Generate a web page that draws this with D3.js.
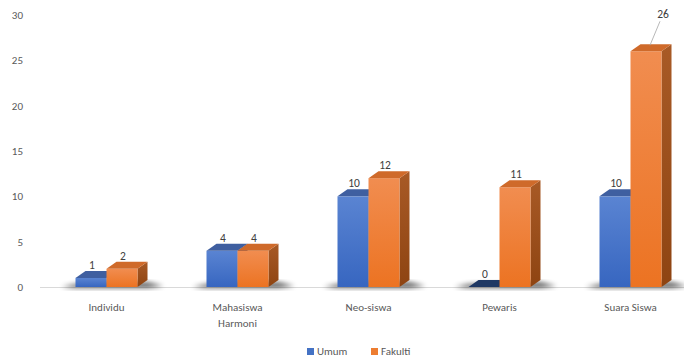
<!DOCTYPE html>
<html><head><meta charset="utf-8">
<script src="https://cdn.jsdelivr.net/npm/d3@7"></script>
<style>body{margin:0;background:#fff}svg{display:block}text{font-family:Calibri,Carlito,"Open Sans","Liberation Sans",sans-serif}</style>
</head><body><svg id="c" width="684" height="364"></svg>
<script>
const categories = [["Individu"], ["Mahasiswa", "Harmoni"], ["Neo-siswa"], ["Pewaris"], ["Suara Siswa"]];
const seriesNames = ["Umum", "Fakulti"];
const umum = [1, 4, 10, 0, 10];
const fakulti = [2, 4, 12, 11, 26];
const yTicks = [0, 5, 10, 15, 20, 25, 30];

const svg = d3.select("#c");
const W = 684, H = 364;
const x = d3.scaleBand().domain(d3.range(categories.length)).range([41, 696]);
const y = d3.scaleLinear().domain([0, 30]).range([287, 15]);
const bw = 31, dx = 10, dy = 7;

const defs = svg.append("defs");
function grad(id, c1, c2, horiz) {
  const g = defs.append("linearGradient").attr("id", id)
    .attr("x1", 0).attr("y1", 0).attr("x2", horiz ? 1 : 0).attr("y2", horiz ? 0 : 1);
  g.append("stop").attr("offset", "0%").attr("stop-color", c1);
  g.append("stop").attr("offset", "100%").attr("stop-color", c2);
}
grad("bf", "#5a84d2", "#3766c0");
grad("of", "#f18d50", "#ec7322");
grad("os", "#a85a26", "#8e4412");
grad("bs", "#33539a", "#27457f");
const f = defs.append("filter").attr("id", "blur").attr("x", "-50%").attr("y", "-50%").attr("width", "200%").attr("height", "200%");
f.append("feGaussianBlur").attr("stdDeviation", 2.5);

// y tick labels
svg.append("g").selectAll("text").data(yTicks).join("text")
  .attr("x", 23).attr("y", d => y(d) + 4).attr("text-anchor", "end")
  .attr("font-size", 11).attr("fill", "#595959").text(d => d);

// baseline
svg.append("line").attr("x1", 40).attr("x2", W).attr("y1", 287.5).attr("y2", 287.5)
  .attr("stroke", "#d9d9d9").attr("stroke-width", 1);

const g = svg.append("g");
categories.forEach((cat, i) => {
  const cx = x(i) + x.bandwidth() / 2;
  const x0 = cx - bw, x1 = cx, x2 = cx + bw;
  // floor shadow
  g.append("path")
    .attr("d", `M${x0 - 14},${y(0)} L${x0},${y(0) - 3} L${x2 + dx},${y(0) - dy + 2} L${x2 + dx + 16},${y(0) - 1} L${x2 + dx},${y(0) + 1} L${x0},${y(0) + 1} Z`)
    .attr("fill", "#000").attr("opacity", 0.6).attr("filter", "url(#blur)");
  const vals = [umum[i], fakulti[i]];
  const fronts = ["url(#bf)", "url(#of)"];
  const tops = ["#3f5fa0", "#cf6a2a"];
  const sides = ["url(#bs)", "url(#os)"];
  vals.forEach((v, s) => {
    const L = s === 0 ? x0 : x1, R = L + bw;
    const top = y(v), base = y(0);
    const zero = v === 0;
    g.append("path").attr("d", `M${R},${top} L${R + dx},${top - dy} L${R + dx},${base - dy} L${R},${base} Z`)
      .attr("fill", sides[s]);
    if (!zero) g.append("rect").attr("x", L).attr("y", top).attr("width", bw).attr("height", base - top).attr("fill", fronts[s]);
    g.append("path").attr("d", `M${L},${top} L${L + dx},${top - dy} L${R + dx},${top - dy} L${R},${top} Z`)
      .attr("fill", zero ? "#1f3864" : tops[s]);
  });
  vals.forEach((v, s) => {
    const L = s === 0 ? x0 : x1;
    let lx = L + bw / 2 + 1, ly = y(v) - dy - 2;
    if (v >= 20) {
      lx = L + bw / 2 + 17; ly = y(v) - 33;
      g.append("line").attr("x1", L + bw / 2 + 4).attr("y1", y(v) - dy + 1)
        .attr("x2", L + bw / 2 + 14).attr("y2", y(v) - 30)
        .attr("stroke", "#a6a6a6").attr("stroke-width", 0.8);
    }
    g.append("text").attr("x", lx).attr("y", ly).attr("text-anchor", "middle")
      .attr("font-size", 11.5).attr("fill", "#404040").text(v);
  });
  const t = svg.append("text").attr("x", cx).attr("y", 311).attr("text-anchor", "middle")
    .attr("font-size", 11).attr("fill", "#595959");
  cat.forEach((line, k) => t.append("tspan").attr("x", cx).attr("dy", k === 0 ? 0 : 16).text(line));
});

// legend
const leg = svg.append("g");
const legX = [307, 371];
seriesNames.forEach((n, s) => {
  leg.append("rect").attr("x", legX[s]).attr("y", 348).attr("width", 7).attr("height", 7)
    .attr("fill", s === 0 ? "#4472c4" : "#ed7d31");
  leg.append("text").attr("x", legX[s] + 10).attr("y", 355).attr("font-size", 11)
    .attr("fill", "#595959").text(n);
});
</script></body></html>
